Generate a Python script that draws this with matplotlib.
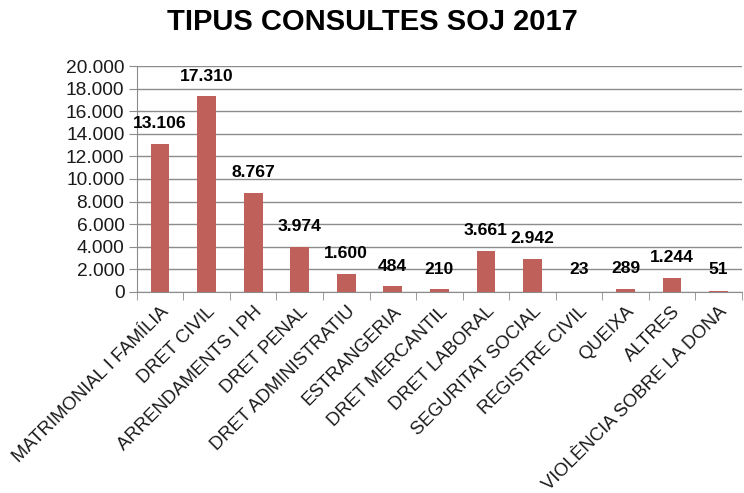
import matplotlib
matplotlib.use("Agg")
import matplotlib.pyplot as plt
import numpy as np

plt.rcParams['font.family'] = ['Liberation Sans', 'DejaVu Sans']

categories = ["MATRIMONIAL I FAMÍLIA", "DRET CIVIL", "ARRENDAMENTS I PH", "DRET PENAL",
              "DRET ADMINISTRATIU", "ESTRANGERIA", "DRET MERCANTIL", "DRET LABORAL",
              "SEGURITAT SOCIAL", "REGISTRE CIVIL", "QUEIXA", "ALTRES",
              "VIOLÈNCIA SOBRE LA DONA"]
values = [13106, 17310, 8767, 3974, 1600, 484, 210, 3661, 2942, 23, 289, 1244, 51]


def fmt(v):
    # thousands separator as a dot
    return f"{v:,.0f}".replace(",", ".")


fig = plt.figure(figsize=(7.44, 4.93), dpi=100)
ax = fig.add_axes([0.184, 0.408, 0.813, 0.458])

x = np.arange(len(categories))
ax.bar(x, values, width=0.4, color='#C0605B', zorder=3)

for xi, v in zip(x, values):
    ax.text(xi, max(v + 1800, 2000), fmt(v), ha='center', va='center',
            fontsize=12.6, fontweight='bold', color='black', zorder=4)

ax.set_xlim(-0.5, len(categories) - 0.5)
ax.set_ylim(0, 20000)
yt = np.arange(0, 20001, 2000)
ax.set_yticks(yt)
ax.set_yticklabels([fmt(v) for v in yt], fontsize=13.8, color='#1a1a1a')
ax.yaxis.grid(True, color='#8c8c8c', linewidth=1, zorder=0)

# labels at the bar centres, tick marks between categories
ax.set_xticks(x)
ax.set_xticklabels(categories, rotation=45, ha='right', rotation_mode='anchor',
                   fontsize=13.3, color='#1a1a1a')
ax.tick_params(axis='x', which='major', length=0, pad=8)
ax.set_xticks(np.arange(-0.5, len(categories)), minor=True)
ax.tick_params(axis='x', which='minor', length=6, color='#8c8c8c')
ax.tick_params(axis='y', length=6, color='#8c8c8c', pad=3)

for side in ['top', 'right']:
    ax.spines[side].set_visible(False)
for side in ['left', 'bottom']:
    ax.spines[side].set_color('#8c8c8c')

fig.text(0.5, 0.955, "TIPUS CONSULTES SOJ 2017", ha='center', va='center',
         fontsize=21, fontweight='bold')

fig.savefig("out.png", dpi=100)
